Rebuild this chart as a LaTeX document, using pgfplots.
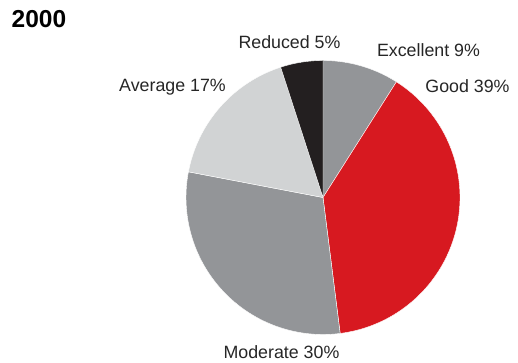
\documentclass[border=0pt]{standalone}
\usepackage{pgfplots}
\pgfplotsset{compat=1.18}
\usepackage{fontspec}
\setmainfont{Liberation Sans}
\definecolor{cgray}{HTML}{939598}
\definecolor{cred}{HTML}{D71920}
\definecolor{clight}{HTML}{D1D3D4}
\definecolor{cblack}{HTML}{231F20}
% shares (%), clockwise from 12 o'clock
\def\vExc{9}\def\vGood{39}\def\vMod{30}\def\vAvg{17}\def\vRed{5}
\pgfmathsetmacro\aA{90}
\pgfmathsetmacro\aB{\aA-3.6*\vExc}
\pgfmathsetmacro\aC{\aB-3.6*\vGood}
\pgfmathsetmacro\aD{\aC-3.6*\vMod}
\pgfmathsetmacro\aE{\aD-3.6*\vAvg}
\pgfmathsetmacro\aF{\aE-3.6*\vRed}
\def\cx{323}\def\cy{165.5}\def\R{137}
\begin{document}
\begin{tikzpicture}
\useasboundingbox (0,0) rectangle (518pt,363pt);
\begin{axis}[at={(0,0)},anchor=south west,x=1pt,y=1pt,
  xmin=0,xmax=518,ymin=0,ymax=363,hide axis,clip=false,scale only axis,
  every axis plot/.append style={draw=white,line width=0.4pt,samples=60,smooth=false}]
\addplot[fill=cgray,domain=\aB:\aA] ({\cx+\R*cos(x)},{\cy+\R*sin(x)}) -- (axis cs:\cx,\cy) -- cycle;
\addplot[fill=cred,domain=\aC:\aB] ({\cx+\R*cos(x)},{\cy+\R*sin(x)}) -- (axis cs:\cx,\cy) -- cycle;
\addplot[fill=cgray,domain=\aD:\aC] ({\cx+\R*cos(x)},{\cy+\R*sin(x)}) -- (axis cs:\cx,\cy) -- cycle;
\addplot[fill=clight,domain=\aE:\aD] ({\cx+\R*cos(x)},{\cy+\R*sin(x)}) -- (axis cs:\cx,\cy) -- cycle;
\addplot[fill=cblack,domain=\aF:\aE] ({\cx+\R*cos(x)},{\cy+\R*sin(x)}) -- (axis cs:\cx,\cy) -- cycle;
\begin{scope}[every node/.style={anchor=base,inner sep=0pt,font=\fontsize{17.8}{20}\selectfont,text=black!85}]
\node at (axis cs:289.5,314.3) {Reduced 5\%};
\node at (axis cs:428.5,306.3) {Excellent 9\%};
\node at (axis cs:467.5,270) {Good 39\%};
\node at (axis cs:172.5,271.3) {Average 17\%};
\node at (axis cs:281.5,4) {Moderate 30\%};
\end{scope}
\node[anchor=base west,inner sep=0pt,font=\fontsize{24.5}{28}\selectfont\bfseries] at (axis cs:11.5,335.3) {2000};
\end{axis}
\end{tikzpicture}
\end{document}
